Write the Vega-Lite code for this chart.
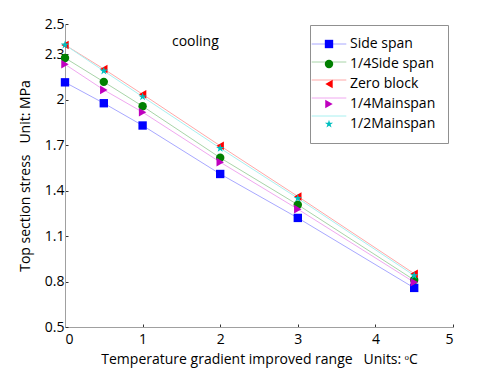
{
  "$schema": "https://vega.github.io/schema/vega-lite/v6.json",
  "autosize": {"type": "none"},
  "padding": {"left": 65, "top": 24, "right": 47, "bottom": 46},
  "width": 388,
  "height": 303,
  "background": "white",
  "config": {
    "view": {"stroke": null},
    "font": "Open Sans",
    "axis": {
      "grid": false,
      "domainColor": "#a0a0a0",
      "tickColor": "#333333",
      "tickSize": -3,
      "labelFont": "Open Sans",
      "labelFontSize": 14,
      "labelColor": "#000000",
      "titleFont": "Open Sans",
      "titleFontSize": 14,
      "titleFontWeight": "normal",
      "titleColor": "#000000"
    }
  },
  "datasets": {
    "main": [
      {"s": "Side span", "x": 0, "y": 2.115},
      {"s": "Side span", "x": 0.5, "y": 1.977},
      {"s": "Side span", "x": 1, "y": 1.83},
      {"s": "Side span", "x": 2, "y": 1.51},
      {"s": "Side span", "x": 3, "y": 1.22},
      {"s": "Side span", "x": 4.5, "y": 0.758},
      {"s": "1/4Side span", "x": 0, "y": 2.276},
      {"s": "1/4Side span", "x": 0.5, "y": 2.118},
      {"s": "1/4Side span", "x": 1, "y": 1.957},
      {"s": "1/4Side span", "x": 2, "y": 1.617},
      {"s": "1/4Side span", "x": 3, "y": 1.307},
      {"s": "1/4Side span", "x": 4.5, "y": 0.81},
      {"s": "Zero block", "x": 0, "y": 2.362},
      {"s": "Zero block", "x": 0.5, "y": 2.203},
      {"s": "Zero block", "x": 1, "y": 2.036},
      {"s": "Zero block", "x": 2, "y": 1.696},
      {"s": "Zero block", "x": 3, "y": 1.362},
      {"s": "Zero block", "x": 4.5, "y": 0.852},
      {"s": "1/4Mainspan", "x": 0, "y": 2.234},
      {"s": "1/4Mainspan", "x": 0.5, "y": 2.065},
      {"s": "1/4Mainspan", "x": 1, "y": 1.918},
      {"s": "1/4Mainspan", "x": 2, "y": 1.588},
      {"s": "1/4Mainspan", "x": 3, "y": 1.278},
      {"s": "1/4Mainspan", "x": 4.5, "y": 0.795},
      {"s": "1/2Mainspan", "x": 0, "y": 2.362},
      {"s": "1/2Mainspan", "x": 0.5, "y": 2.19},
      {"s": "1/2Mainspan", "x": 1, "y": 2.02},
      {"s": "1/2Mainspan", "x": 2, "y": 1.68},
      {"s": "1/2Mainspan", "x": 3, "y": 1.35},
      {"s": "1/2Mainspan", "x": 4.5, "y": 0.84}
    ]
  },
  "layer": [
    {
      "data": {"name": "main"},
      "mark": {"type": "line", "strokeWidth": 1},
      "encoding": {
        "x": {
          "field": "x", "type": "quantitative",
          "scale": {"domain": [0, 5], "nice": false, "zero": false},
          "axis": {"values": [0, 1, 2, 3, 4, 5], "format": "~g", "labelPadding": 8,
                   "title": "Temperature gradient improved range\u00a0\u00a0\u00a0Units: ᵒC", "titlePadding": 6}
        },
        "y": {
          "field": "y", "type": "quantitative",
          "scale": {"domain": [0.5, 2.5], "nice": false, "zero": false},
          "axis": {"values": [0.5, 0.8, 1.1, 1.4, 1.7, 2, 2.3, 2.5], "format": "~g", "labelPadding": 4,
                   "title": "Top section stress\u00a0\u00a0\u00a0Unit: MPa", "titlePadding": 12}
        },
        "stroke": {
          "field": "s", "type": "nominal",
          "scale": {
            "domain": ["1/2Mainspan", "1/4Mainspan", "Zero block", "1/4Side span", "Side span"],
            "range": ["#a8f0f0", "#f0a8f0", "#ffa8a8", "#a8d4a8", "#a8a8ff"]
          },
          "legend": {
            "orient": "none", "legendX": 245, "legendY": 1,
            "values": ["Side span", "1/4Side span", "Zero block", "1/4Mainspan", "1/2Mainspan"],
            "title": null, "symbolType": "M-4,0L4,0", "symbolSize": 75, "symbolStrokeWidth": 1,
            "labelFontSize": 14, "labelFont": "Open Sans", "labelExpr": "''",
            "labelOffset": 14, "rowPadding": 4, "padding": 12
          }
        }
      }
    },
    {
      "data": {"name": "main"},
      "mark": {"type": "point", "filled": true, "opacity": 1},
      "encoding": {
        "x": {"field": "x", "type": "quantitative"},
        "y": {"field": "y", "type": "quantitative"},
        "fill": {
          "field": "s", "type": "nominal",
          "scale": {
            "domain": ["Side span", "1/4Side span", "Zero block", "1/4Mainspan", "1/2Mainspan"],
            "range": ["#0000ff", "#008000", "#ff0000", "#bf00bf", "#00bfbf"]
          },
          "legend": {
            "orient": "none", "legendX": 245, "legendY": 1,
            "title": null,
            "labelFontSize": 14, "labelFont": "Open Sans", "labelColor": "#000000",
            "labelOffset": 14, "rowPadding": 4, "padding": 12,
            "strokeColor": "#909090"
          }
        },
        "shape": {
          "field": "s", "type": "nominal",
          "scale": {
            "domain": ["Side span", "1/4Side span", "Zero block", "1/4Mainspan", "1/2Mainspan"],
            "range": ["square", "circle", "triangle-left", "triangle-right", "M0,-1L0.225,-0.31L0.95,-0.31L0.36,0.12L0.59,0.81L0,0.38L-0.59,0.81L-0.36,0.12L-0.95,-0.31L-0.225,-0.31Z"]
          }
        },
        "size": {
          "field": "s", "type": "nominal",
          "scale": {
            "domain": ["Side span", "1/4Side span", "Zero block", "1/4Mainspan", "1/2Mainspan"],
            "range": [70, 75, 75, 75, 45]
          }
        }
      }
    },
    {
      "data": {"values": [{"t": "cooling"}]},
      "mark": {"type": "text", "fontSize": 14, "font": "Open Sans", "color": "#000000"},
      "encoding": {
        "x": {"datum": 1.68, "type": "quantitative"},
        "y": {"datum": 2.38, "type": "quantitative"},
        "text": {"field": "t"}
      }
    }
  ]
}
